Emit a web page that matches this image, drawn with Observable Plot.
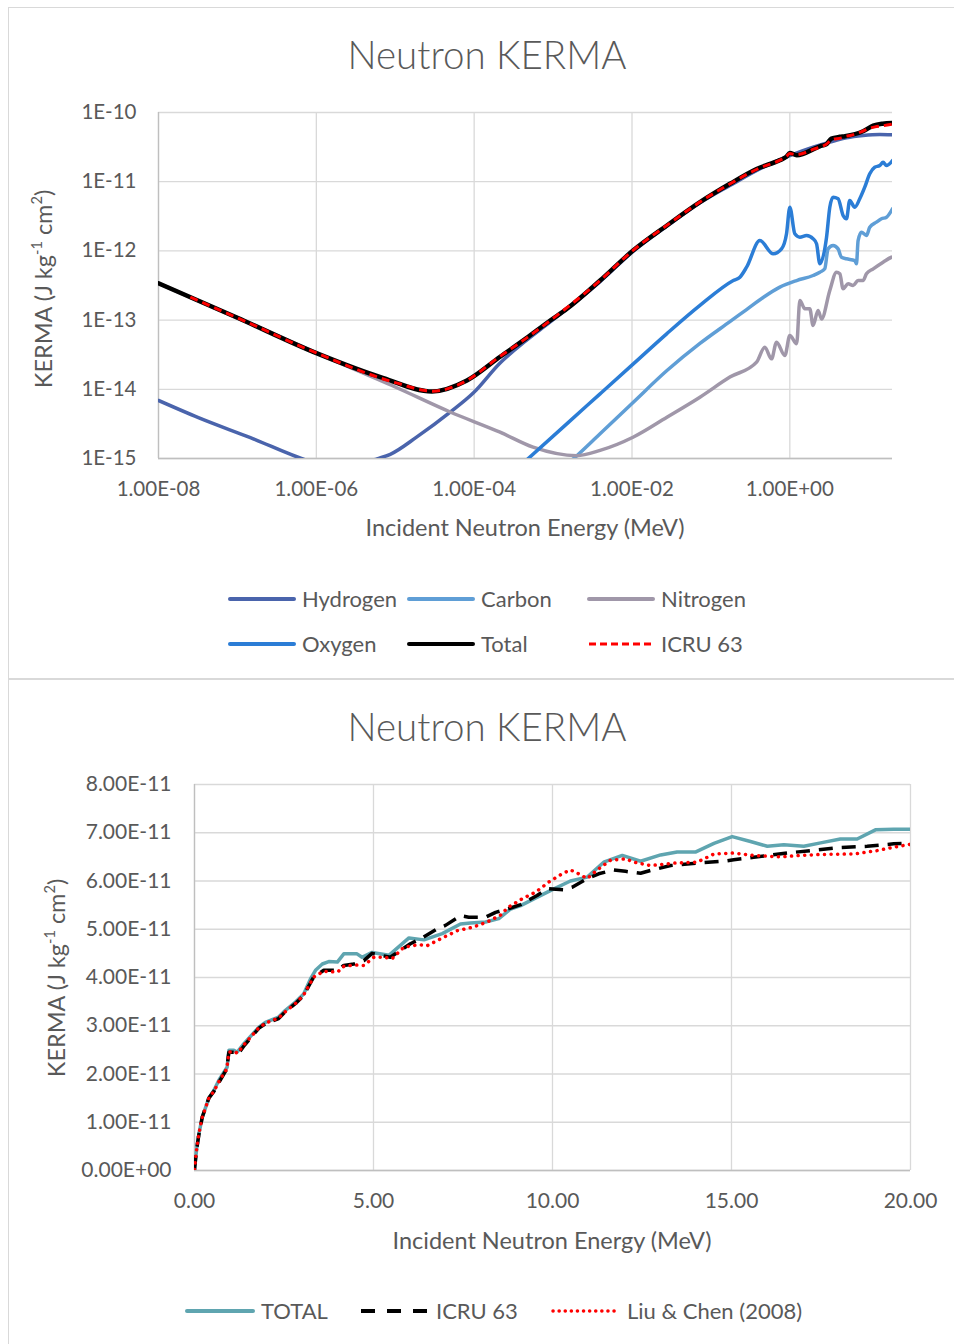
<!DOCTYPE html>
<html><head><meta charset="utf-8">
<script src="https://cdn.jsdelivr.net/npm/d3@7"></script>
<script src="https://cdn.jsdelivr.net/npm/@observablehq/plot@0.6"></script>
<style>
html,body{margin:0;padding:0;overflow:hidden;background:#fff;}
#page{position:relative;width:954px;height:1344px;overflow:hidden;font-family:Lato,"Open Sans",sans-serif;color:#595959;}
.abs{position:absolute;white-space:nowrap;line-height:1;}
.box{position:absolute;border:1px solid #d9d9d9;pointer-events:none;z-index:5;}
.title{font-size:38.5px;font-weight:300;transform:translate(-50%,-50%);}
.axt{font-size:23.5px;transform:translate(-50%,-50%);}
.ayt{font-size:23.5px;transform:translate(-50%,-50%) rotate(-90deg);}
.leg{font-size:22px;display:flex;align-items:center;transform:translateY(-50%);}
.leg svg{margin-right:6px;}
sup{font-size:0.62em;line-height:0;position:relative;top:-0.1em;}
.chart{position:absolute;left:0;}
</style></head>
<body><div id="page">
<div id="c1" class="chart" style="top:0"></div>
<div id="c2" class="chart" style="top:679px"></div>
<div class="box" style="left:8px;top:7px;width:960px;height:671px"></div>
<div class="box" style="left:8px;top:678px;width:960px;height:700px"></div>
<div class="abs title" style="left:487px;top:54px">Neutron KERMA</div>
<div class="abs axt" style="left:525px;top:528px">Incident Neutron Energy (MeV)</div>
<div class="abs ayt" style="left:44px;top:289px">KERMA (J kg<sup>-1</sup> cm<sup>2</sup>)</div>
<div class="abs title" style="left:487px;top:726px">Neutron KERMA</div>
<div class="abs axt" style="left:552px;top:1241px">Incident Neutron Energy (MeV)</div>
<div class="abs ayt" style="left:57px;top:978px">KERMA (J kg<sup>-1</sup> cm<sup>2</sup>)</div>
<div id="legs"></div>
</div>
<script>
// ---------- Top chart data: [energy MeV, KERMA J kg-1 cm2] ----------
const hydrogen = [[1e-8,6.9e-15],[3.2e-8,3.9e-15],[1.46e-7,2.0e-15],[7.6e-7,9.4e-16],[2.0e-6,7.0e-16],[3.4e-6,8.2e-16],[5.9e-6,9.9e-16],[8.65e-6,1.15e-15],[1.88e-5,2.05e-15],[4.97e-5,4.67e-15],[9.8e-5,8.9e-15],[2.13e-4,2.4e-14],[4.5e-4,5.0e-14],[9.2e-4,9.4e-14],[3.94e-3,3.6e-13],[1.03e-2,9.8e-13],[2.77e-2,2.28e-12],[7.26e-2,4.95e-12],[0.174,8.81e-12],[0.459,1.62e-11],[1.0,2.39e-11],[1.97,3.16e-11],[3.21,3.73e-11],[5.22,4.31e-11],[8.47,4.65e-11],[13.8,4.81e-11],[20,4.77e-11]];
const carbon = [[1.5e-3,8.2e-16],[1.81e-3,9.9e-16],[3.94e-3,2.28e-15],[1.04e-2,6.52e-15],[2.75e-2,1.85e-14],[7.26e-2,4.6e-14],[0.174,9.5e-14],[0.283,1.42e-13],[0.459,2.12e-13],[0.747,2.99e-13],[1.22,3.73e-13],[1.97,4.41e-13],[2.40,4.92e-13],[2.77,5.51e-13],[3.05,1.07e-12],[3.53,1.20e-12],[4.09,1.07e-12],[4.51,8.1e-13],[5.22,7.69e-13],[6.65,7.26e-13],[6.99,6.52e-13],[7.33,1.41e-12],[8.09,1.86e-12],[9.35,1.67e-12],[10.3,2.20e-12],[12.5,2.60e-12],[14.5,2.91e-12],[16.8,3.07e-12],[20,4.06e-12]];
const nitrogen = [[1e-8,3.41e-13],[1e-7,1.08e-13],[1e-6,3.35e-14],[1e-5,1.08e-14],[4.97e-5,4.7e-15],[2.13e-4,2.4e-15],[5.58e-4,1.46e-15],[1.99e-3,1.10e-15],[3.94e-3,1.31e-15],[1.03e-2,2.03e-15],[2.77e-2,3.95e-15],[7.26e-2,7.69e-15],[0.174,1.50e-14],[0.379,2.47e-14],[0.482,4.05e-14],[0.586,2.76e-14],[0.679,4.80e-14],[0.865,3.08e-14],[1.0,5.98e-14],[1.22,4.55e-14],[1.34,1.92e-13],[1.55,1.46e-13],[1.79,1.46e-13],[1.97,8.35e-14],[2.28,1.38e-13],[2.52,1.04e-13],[3.21,2.68e-13],[3.90,4.92e-13],[4.30,4.67e-13],[4.73,2.83e-13],[5.48,3.35e-13],[6.33,3.16e-13],[7.33,3.73e-13],[8.47,3.73e-13],[9.35,4.67e-13],[11.4,5.51e-13],[15.2,6.87e-13],[19.4,8.1e-13],[20,8.2e-13]];
const oxygen = [[4.0e-4,8.2e-16],[1.49e-3,3.17e-15],[3.94e-3,8.6e-15],[1.04e-2,2.33e-14],[2.75e-2,6.33e-14],[7.26e-2,1.63e-13],[0.192,3.73e-13],[0.233,4.17e-13],[0.283,5.81e-13],[0.417,1.41e-12],[0.615,9.07e-13],[0.785,1.07e-12],[0.908,1.77e-12],[1.0,4.28e-12],[1.157,1.77e-12],[1.34,1.58e-12],[1.63,1.67e-12],[1.97,1.50e-12],[2.18,1.27e-12],[2.40,6.52e-13],[2.92,1.58e-12],[3.21,4.28e-12],[3.53,5.97e-12],[4.09,5.66e-12],[4.73,3.25e-12],[5.22,2.91e-12],[5.74,5.35e-12],[6.65,4.28e-12],[7.69,5.66e-12],[8.90,8.33e-12],[10.3,1.30e-11],[11.9,1.62e-11],[13.8,1.71e-11],[15.2,1.91e-11],[16.8,1.71e-11],[20,2.02e-11]];
const total = [[1e-8,3.41e-13],[1e-7,1.08e-13],[1.02e-6,3.3e-14],[7.1e-6,1.45e-14],[2.92e-5,9.3e-15],[8.1e-5,1.34e-14],[2.13e-4,2.95e-14],[4.5e-4,5.4e-14],[9.2e-4,9.86e-14],[1.5e-3,1.46e-13],[3.94e-3,3.73e-13],[1.03e-2,1.01e-12],[2.77e-2,2.33e-12],[7.26e-2,5.06e-12],[0.174,9.33e-12],[0.379,1.53e-11],[0.747,2.05e-11],[0.908,2.3e-11],[1.0,2.6e-11],[1.22,2.42e-11],[2.40,3.25e-11],[2.92,3.5e-11],[3.36,4.2e-11],[4.30,4.45e-11],[5.0,4.55e-11],[8.47,5.35e-11],[11.4,6.45e-11],[15,6.9e-11],[20,7.07e-11]];
const icru63 = [[2.53e-8,2.14e-13],[1e-7,1.08e-13],[1e-6,3.35e-14],[1e-5,1.25e-14],[3e-5,9.4e-15],[8e-5,1.33e-14],[2e-4,2.85e-14],[4.5e-4,5.4e-14],[1e-3,1.06e-13],[4e-3,3.8e-13],[1e-2,9.9e-13],[3e-2,2.5e-12],[7e-2,4.95e-12],[0.18,9.5e-12],[0.4,1.55e-11],[0.75,2.05e-11],[0.9,2.3e-11],[1.0,2.55e-11],[1.2,2.45e-11],[2.0,2.95e-11],[2.9,3.48e-11],[3.4,4.05e-11],[4.5,4.3e-11],[5.0,4.5e-11],[6.0,4.7e-11],[8.0,5.25e-11],[10,5.85e-11],[12,6.2e-11],[15,6.42e-11],[20,6.8e-11]];

// ---------- Bottom chart data ----------
const totalLin = [[2.53e-8,2.1e-13],[0.03,2.4e-12],[0.07,5.0e-12],[0.12,7.5e-12],[0.215,1.1e-11],[0.40,1.5e-11],[0.54,1.66e-11],[0.68,1.87e-11],[0.91,2.14e-11],[0.96,2.49e-11],[1.10,2.49e-11],[1.19,2.45e-11],[1.38,2.63e-11],[1.80,2.97e-11],[1.98,3.07e-11],[2.35,3.18e-11],[2.54,3.32e-11],[2.82,3.49e-11],[3.05,3.66e-11],[3.24,3.97e-11],[3.38,4.15e-11],[3.57,4.28e-11],[3.75,4.33e-11],[3.99,4.32e-11],[4.17,4.49e-11],[4.54,4.49e-11],[4.68,4.42e-11],[4.96,4.52e-11],[5.43,4.46e-11],[5.99,4.82e-11],[6.41,4.78e-11],[6.92,4.91e-11],[7.43,5.11e-11],[7.71,5.13e-11],[8.13,5.15e-11],[8.50,5.22e-11],[8.83,5.42e-11],[9.11,5.49e-11],[9.48,5.63e-11],[9.94,5.80e-11],[10.50,6.00e-11],[10.97,6.08e-11],[11.43,6.39e-11],[11.95,6.53e-11],[12.46,6.41e-11],[13.02,6.54e-11],[13.48,6.60e-11],[13.99,6.60e-11],[14.51,6.78e-11],[15.02,6.92e-11],[15.53,6.82e-11],[16.00,6.72e-11],[16.46,6.75e-11],[17.02,6.72e-11],[17.49,6.79e-11],[18.04,6.87e-11],[18.51,6.87e-11],[19.02,7.06e-11],[19.53,7.07e-11],[20.0,7.07e-11]];
const icru63Lin = [[2.53e-8,2.1e-13],[0.03,2.4e-12],[0.07,4.9e-12],[0.12,7.3e-12],[0.215,1.1e-11],[0.40,1.5e-11],[0.55,1.65e-11],[0.70,1.85e-11],[0.90,2.1e-11],[0.96,2.45e-11],[1.10,2.45e-11],[1.20,2.4e-11],[1.40,2.6e-11],[1.80,2.95e-11],[2.0,3.05e-11],[2.35,3.15e-11],[2.55,3.3e-11],[2.85,3.48e-11],[3.05,3.63e-11],[3.33,4.01e-11],[3.61,4.15e-11],[3.99,4.15e-11],[4.17,4.25e-11],[4.45,4.28e-11],[4.73,4.35e-11],[4.96,4.50e-11],[5.20,4.46e-11],[5.47,4.42e-11],[6.03,4.70e-11],[6.31,4.80e-11],[6.78,5.01e-11],[7.01,5.08e-11],[7.43,5.28e-11],[7.66,5.25e-11],[8.13,5.25e-11],[8.41,5.35e-11],[8.83,5.44e-11],[9.11,5.51e-11],[9.57,5.70e-11],[9.85,5.84e-11],[10.32,5.82e-11],[10.55,5.87e-11],[10.97,6.05e-11],[11.29,6.15e-11],[11.71,6.23e-11],[12.04,6.20e-11],[12.46,6.16e-11],[12.74,6.22e-11],[13.30,6.32e-11],[14.04,6.37e-11],[14.78,6.41e-11],[15.06,6.44e-11],[15.62,6.49e-11],[16.56,6.58e-11],[17.21,6.63e-11],[17.95,6.69e-11],[18.79,6.72e-11],[19.53,6.77e-11],[20.0,6.79e-11]];
const liuChen = [[2.53e-8,2.1e-13],[0.03,2.5e-12],[0.07,5.0e-12],[0.12,7.5e-12],[0.215,1.1e-11],[0.40,1.5e-11],[0.55,1.65e-11],[0.70,1.87e-11],[0.90,2.1e-11],[0.96,2.45e-11],[1.10,2.47e-11],[1.20,2.43e-11],[1.40,2.62e-11],[1.80,2.96e-11],[2.0,3.06e-11],[2.35,3.16e-11],[2.55,3.3e-11],[2.85,3.48e-11],[3.05,3.64e-11],[3.33,4.01e-11],[3.61,4.13e-11],[3.99,4.11e-11],[4.17,4.23e-11],[4.45,4.26e-11],[4.73,4.25e-11],[5.01,4.42e-11],[5.29,4.42e-11],[5.52,4.39e-11],[5.85,4.63e-11],[6.27,4.68e-11],[6.50,4.66e-11],[6.87,4.80e-11],[7.34,4.97e-11],[7.76,5.04e-11],[8.18,5.15e-11],[8.59,5.31e-11],[8.73,5.44e-11],[9.15,5.63e-11],[9.53,5.77e-11],[9.90,5.98e-11],[10.27,6.15e-11],[10.50,6.23e-11],[10.73,6.15e-11],[10.97,6.05e-11],[11.25,6.23e-11],[11.62,6.43e-11],[12.04,6.46e-11],[12.27,6.39e-11],[12.74,6.32e-11],[13.39,6.37e-11],[14.04,6.39e-11],[14.51,6.56e-11],[15.06,6.58e-11],[15.62,6.53e-11],[16.37,6.50e-11],[16.93,6.53e-11],[17.49,6.55e-11],[18.42,6.56e-11],[19.07,6.63e-11],[19.53,6.70e-11],[20.0,6.76e-11]];

// ---------- Ticks ----------
const xTicksTop = [1e-8, 1e-6, 1e-4, 1e-2, 1];
const yTicksTop = [1e-15, 1e-14, 1e-13, 1e-12, 1e-11, 1e-10];
const xTicksBot = [0, 5, 10, 15, 20];
const yTicksBot = [0, 1e-11, 2e-11, 3e-11, 4e-11, 5e-11, 6e-11, 7e-11, 8e-11];

const C = {hydrogen:"#4A64AC", carbon:"#5F9ED6", nitrogen:"#A097A9", oxygen:"#2B7DD6", total:"#000000", icru:"#FF0000", teal:"#5FA5B0"};
const GRID = "#d9d9d9", AXIS = "#bfbfbf";

function expFmt(d){ // 1.00E-08 style
  if (d === 0) return "0.00E+00";
  const s = d.toExponential(2).toUpperCase();
  return s.replace(/E([+-])(\d)$/, "E$10$2");
}
const lineOpts = (color, w, extra={}) => Object.assign({x: d => d[0], y: d => d[1], stroke: color, strokeWidth: w, strokeLinejoin:"round", strokeLinecap:"round", clip:true}, extra);

const chartTop = Plot.plot({
  width: 954, height: 678,
  marginLeft: 158, marginRight: 62, marginTop: 112, marginBottom: 220,
  style: {fontFamily: "Lato, 'Open Sans', sans-serif", fontSize: "20.5px", color: "#595959", background: "transparent", overflow: "visible"},
  x: {type: "log", domain: [1e-8, 20]},
  y: {type: "log", domain: [1e-15, 1e-10]},
  marks: [
    Plot.gridX(xTicksTop, {stroke: GRID, strokeOpacity: 1, strokeWidth: 1.3}),
    Plot.gridY(yTicksTop, {stroke: GRID, strokeOpacity: 1, strokeWidth: 1.3}),
    Plot.ruleY([1e-15], {stroke: AXIS, strokeWidth: 1.3}),
    Plot.ruleX([1e-8], {stroke: AXIS, strokeWidth: 1.3}),
    Plot.axisX(xTicksTop, {tickSize: 0, tickPadding: 23, tickFormat: expFmt, label: null, fontSize: 20.5}),
    Plot.axisY(yTicksTop, {tickSize: 0, tickPadding: 22, tickFormat: d => d.toExponential(0).toUpperCase(), label: null, fontSize: 20.5}),
    Plot.line(hydrogen, lineOpts(C.hydrogen, 3.5, {curve: "monotone-x"})),
    Plot.line(carbon, lineOpts(C.carbon, 3.5, {curve: "monotone-x"})),
    Plot.line(nitrogen, lineOpts(C.nitrogen, 3.5, {curve: "monotone-x"})),
    Plot.line(oxygen, lineOpts(C.oxygen, 3.5, {curve: "monotone-x"})),
    Plot.line(total, lineOpts(C.total, 4.5, {curve: "monotone-x"})),
    Plot.line(icru63, lineOpts(C.icru, 3, {curve: "monotone-x", strokeDasharray: "8,5", strokeLinecap: "butt"}))
  ]
});
document.getElementById("c1").appendChild(chartTop);

const chartBot = Plot.plot({
  width: 954, height: 665,
  marginLeft: 194, marginRight: 44, marginTop: 105, marginBottom: 174,
  style: {fontFamily: "Lato, 'Open Sans', sans-serif", fontSize: "21px", color: "#595959", background: "transparent", overflow: "visible"},
  x: {type: "linear", domain: [0, 20]},
  y: {type: "linear", domain: [0, 8e-11]},
  marks: [
    Plot.gridX(xTicksBot, {stroke: GRID, strokeOpacity: 1, strokeWidth: 1.3}),
    Plot.gridY(yTicksBot, {stroke: GRID, strokeOpacity: 1, strokeWidth: 1.3}),
    Plot.ruleY([0], {stroke: AXIS, strokeWidth: 1.3}),
    Plot.ruleX([0], {stroke: AXIS, strokeWidth: 1.3}),
    Plot.axisX(xTicksBot, {tickSize: 0, tickPadding: 23, tickFormat: d => d.toFixed(2), label: null, fontSize: 21}),
    Plot.axisY(yTicksBot, {tickSize: 0, tickPadding: 23, tickFormat: expFmt, label: null, fontSize: 21}),
    Plot.line(totalLin, lineOpts(C.teal, 3.5)),
    Plot.line(icru63Lin, lineOpts(C.total, 3.5, {strokeDasharray: "14,9", strokeLinecap: "butt"})),
    Plot.line(liuChen, lineOpts(C.icru, 3.5, {strokeDasharray: "0.1,6.5"}))
  ]
});
document.getElementById("c2").appendChild(chartBot);

// ---------- Legends (HTML) ----------
const legendItems = [
  {label: "Hydrogen", color: C.hydrogen, dash: null, w: 4, x: 228, y: 599, len: 68},
  {label: "Carbon", color: C.carbon, dash: null, w: 4, x: 407, y: 599, len: 68},
  {label: "Nitrogen", color: C.nitrogen, dash: null, w: 4, x: 587, y: 599, len: 68},
  {label: "Oxygen", color: C.oxygen, dash: null, w: 4, x: 228, y: 644, len: 68},
  {label: "Total", color: C.total, dash: null, w: 4, x: 407, y: 644, len: 68},
  {label: "ICRU 63", color: C.icru, dash: "7,4", w: 3, x: 587, y: 644, len: 68, cap: "butt"},
  {label: "TOTAL", color: C.teal, dash: null, w: 4, x: 185, y: 1311, len: 70},
  {label: "ICRU 63", color: C.total, dash: "14,12", w: 4, x: 359, y: 1311, len: 71, cap: "butt"},
  {label: "Liu & Chen (2008)", color: C.icru, dash: "0.1,6", w: 3.5, x: 551, y: 1311, len: 70}
];
const legs = document.getElementById("legs");
for (const it of legendItems) {
  const div = document.createElement("div");
  div.className = "abs leg";
  div.style.left = it.x + "px";
  div.style.top = it.y + "px";
  const cap = it.cap || "round";
  div.innerHTML = `<svg width="${it.len}" height="8"><line x1="2" y1="4" x2="${it.len-2}" y2="4" stroke="${it.color}" stroke-width="${it.w}" stroke-linecap="${cap}" ${it.dash ? `stroke-dasharray="${it.dash}"` : ""}/></svg><span>${it.label}</span>`;
  legs.appendChild(div);
}
</script>
</body></html>
